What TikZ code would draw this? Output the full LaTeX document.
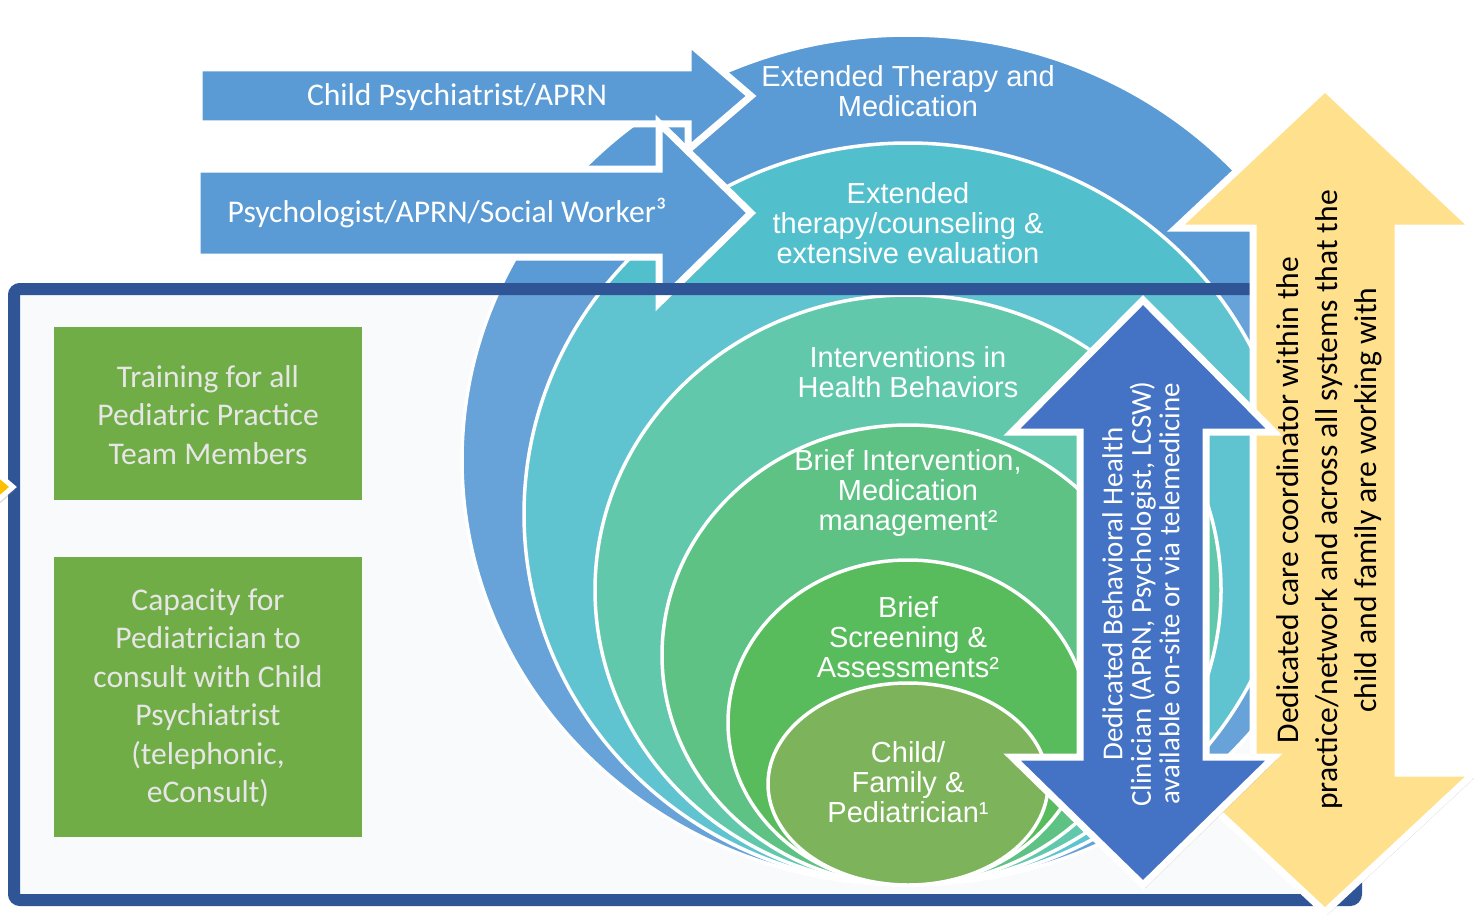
\documentclass[tikz,border=0pt]{standalone}
\usepackage{fontspec}
\setmainfont{Carlito}
\newfontfamily\arialf{Liberation Sans}
\usetikzlibrary{shadows}
\definecolor{cEa}{HTML}{5B9BD5}
\definecolor{cEb}{HTML}{52BFCD}
\definecolor{cEc}{HTML}{55C4A6}
\definecolor{cEd}{HTML}{50BD79}
\definecolor{cEe}{HTML}{4BB74F}
\definecolor{cEf}{HTML}{72AD4D}
\definecolor{panelbg}{HTML}{F9FAFC}
\definecolor{panelline}{HTML}{2F5597}
\definecolor{arrblue}{HTML}{5B9BD5}
\definecolor{dblblue}{HTML}{4472C4}
\definecolor{yell}{HTML}{FFE08C}
\definecolor{orangey}{HTML}{FFC000}
\definecolor{boxgreen}{HTML}{70AD47}
\definecolor{boxtext}{HTML}{E7E6E6}
\tikzset{
  ring/.style={draw=white, line width=3.5pt},
  ctext/.style={inner sep=0pt, align=center, text=white, font=\arialf\fontsize{29}{30}\selectfont},
  atext/.style={inner sep=0pt, align=center, text=white, font=\fontsize{31.6}{38.5}\selectfont},
  gtext/.style={inner sep=0pt, align=center, text=boxtext, font=\fontsize{31.6}{38.5}\selectfont},
  btext/.style={inner sep=0pt, align=center, text=white, rotate=90, font=\fontsize{28.9}{28.5}\selectfont},
  ytext/.style={inner sep=0pt, align=center, text=black, rotate=90, font=\fontsize{31.6}{38.8}\selectfont},
  arrowshape/.style={draw=white, line width=7pt, line join=miter, miter limit=10,
     drop shadow={opacity=0.28, shadow xshift=2.5pt, shadow yshift=-3pt}},
  greenbox/.style={fill=boxgreen},
}
\begin{document}
\begin{tikzpicture}[x=1pt,y=-1pt]
\useasboundingbox (0,0) rectangle (1474,923);
\fill[white] (0,0) rectangle (1474,923);
\fill[panelbg] (14,289) rectangle (1356,900);
% nested ellipses
\draw[ring, fill=cEa] (908,460) ellipse [x radius=446, y radius=425];
\draw[ring, fill=cEb] (908,514) ellipse [x radius=384, y radius=371];
\draw[ring, fill=cEc] (908,590) ellipse [x radius=313, y radius=295];
\draw[ring, fill=cEd] (908,655) ellipse [x radius=246, y radius=230];
\draw[ring, fill=cEe] (908,722.5) ellipse [x radius=180, y radius=162.5];
\draw[ring, fill=cEf] (908,784) ellipse [x radius=140, y radius=101];
% left arrows
\filldraw[arrowshape, fill=arrblue] (199,68) -- (688,68) -- (688,42) -- (751,96) -- (688,150) -- (688,124) -- (199,124) -- cycle;
\filldraw[arrowshape, fill=arrblue] (197,169) -- (659,169) -- (659,123) -- (751,213) -- (659,303) -- (659,257) -- (197,257) -- cycle;
% panel overlay and border
\fill[white, opacity=0.08] (14,289) rectangle (1356,900);
\draw[panelline, line width=12pt, rounded corners=6pt] (14,289) rectangle (1356,900);
% green boxes
\fill[greenbox] (54,327) rectangle (362,500);
\fill[greenbox] (54,557) rectangle (362,837);
% small left arrow tip
\filldraw[arrowshape, line width=5pt, fill=orangey] (-30,450) -- (13,487) -- (-30,524) -- cycle;
% yellow double arrow
\filldraw[arrowshape, fill=yell] (1325,88) -- (1474,228) -- (1398,228) -- (1398,773) -- (1474,773) -- (1325,912) -- (1176,773) -- (1253,773) -- (1253,228) -- (1176,228) -- cycle;
% blue double arrow
\filldraw[arrowshape, fill=dblblue] (1143,300) -- (1274,432) -- (1206,432) -- (1206,757) -- (1274,757) -- (1143,885) -- (1012,757) -- (1080,757) -- (1080,432) -- (1012,432) -- cycle;
% texts
\node[ctext] (t1) at (908,91) {Extended Therapy and\\Medication};
\node[ctext] (t2) at (908,223) {Extended\\therapy/counseling \&\\extensive evaluation};
\node[ctext] (t3) at (908,372) {Interventions in\\Health Behaviors};
\node[ctext] (t4) at (908,493) {Brief Intervention,\\Medication\\management²};
\node[ctext] (t5) at (908,637) {Brief\\Screening \&\\Assessments²};
\node[ctext] (t6) at (908,782) {Child/\\Family \&\\Pediatrician¹};
\node[atext] (a1) at (457,97) {Child Psychiatrist/APRN};
\node[atext] (a2) at (447,213) {Psychologist/APRN/Social Worker³};
\node[gtext] (g1) at (208,415) {Training for all\\Pediatric Practice\\Team Members};
\node[gtext] (g2) at (208,698) {Capacity for\\Pediatrician to\\consult with Child\\Psychiatrist\\(telephonic,\\eConsult)};
\node[btext] (b1) at (1141,594) {Dedicated Behavioral Health\\Clinician (APRN, Psychologist, LCSW)\\available on-site or via telemedicine};
\node[ytext] (y1) at (1329,500) {Dedicated care coordinator within the\\practice/network and across all systems that the\\child and family are working with};
\end{tikzpicture}
\end{document}
